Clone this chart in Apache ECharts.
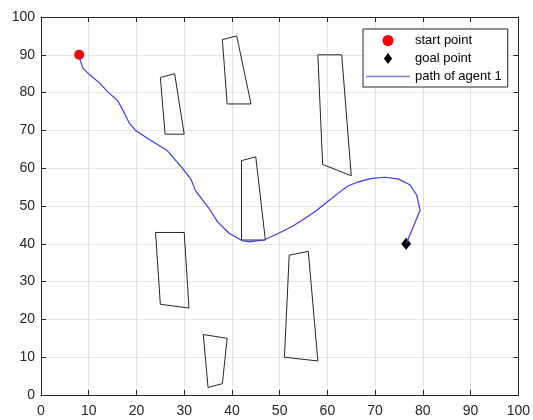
<!DOCTYPE html>
<html>
<head>
<meta charset="utf-8">
<script src="https://cdn.jsdelivr.net/npm/echarts@6/dist/echarts.min.js"></script>
<style>
  html, body { margin: 0; padding: 0; background: #fff; }
  #main { width: 533px; height: 420px; }
</style>
</head>
<body>
<div id="main"></div>
<script>
var chartDom = document.getElementById('main');
var myChart = echarts.init(chartDom);
var option;

// axis ticks
var xTicks = [0, 100, 10];
var yTicks = [0, 100, 10];

// start / goal
var startPoint = [[8, 90]];
var goalPoint = [[76.5, 40]];

// path of agent 1
var agentPath = [
  [8, 90], [8.2, 88.6], [8.8, 86.4], [10.2, 84.7], [12.3, 82.5], [14, 80.2],
  [16.1, 77.8], [17.5, 74.5], [18.5, 71.9], [19.9, 69.9], [22.7, 67.6],
  [26.5, 64.6], [29.6, 60], [31.4, 57.1], [32.4, 54], [35.2, 49.4],
  [37, 45.8], [39.4, 42.8], [42.2, 40.8], [43.6, 40.5], [46.7, 41],
  [49.8, 42.8], [52.6, 44.6], [55, 46.5], [57.5, 48.6], [60, 51.1],
  [62.5, 53.6], [64.3, 55.3], [66.5, 56.4], [69.3, 57.3], [72.1, 57.6],
  [74.9, 57.1], [77.3, 55.6], [78.7, 52.9], [79.4, 48.9], [78, 44.5],
  [76.5, 40]
];

// obstacles (polygon corners)
var obsA = [[25, 84], [28, 85], [30, 69], [26, 69]];
var obsB = [[38, 94], [41, 95], [44, 77], [39, 77]];
var obsC = [[58, 90], [63, 90], [65, 58], [59, 61]];
var obsD = [[42, 62], [45, 63], [47, 41], [42, 41]];
var obsE = [[24, 43], [30, 43], [31, 23], [25, 24]];
var obsF = [[34, 16], [39, 15], [38, 3], [35, 2]];
var obsG = [[52, 37], [56, 38], [58, 9], [51, 10]];
var obstacles = [obsA, obsB, obsC, obsD, obsE, obsF, obsG];

var axisColor = '#262626';
var pathColor = '#3a3ae8';
var font = 'Liberation Sans, Arial, sans-serif';

function boxAxis(pos, showLabel, lim) {
  return {
    type: 'value',
    position: pos,
    min: lim[0],
    max: lim[1],
    interval: lim[2],
    axisLine: { show: true, onZero: false, lineStyle: { color: axisColor, width: 1 } },
    axisTick: { show: true, inside: true, length: 5, lineStyle: { color: axisColor } },
    axisLabel: {
      show: showLabel,
      color: axisColor,
      fontSize: 14,
      fontFamily: font,
      margin: (pos === 'bottom') ? 9 : 6
    },
    splitLine: { show: showLabel, lineStyle: { color: '#e3e3e3', width: 1 } }
  };
}

var series = obstacles.map(function (pts, i) {
  return {
    name: 'obstacle ' + (i + 1),
    type: 'line',
    data: pts.concat([pts[0]]),
    symbol: 'none',
    silent: true,
    lineStyle: { color: axisColor, width: 1 }
  };
});

series.push({
  name: 'path of agent 1',
  type: 'line',
  data: agentPath,
  symbol: 'none',
  lineStyle: { color: pathColor, width: 1.2 },
  itemStyle: { color: pathColor }
});
series.push({
  name: 'start point',
  type: 'scatter',
  data: startPoint,
  symbol: 'circle',
  symbolSize: 10,
  itemStyle: { color: '#ff0000', opacity: 1 }
});
series.push({
  name: 'goal point',
  type: 'scatter',
  data: goalPoint,
  symbol: 'diamond',
  symbolSize: [10, 12],
  itemStyle: { color: '#000000', opacity: 1 }
});

option = {
  animation: false,
  backgroundColor: '#ffffff',
  grid: { left: 41, right: 13, top: 17, bottom: 25 },
  xAxis: [boxAxis('bottom', true, xTicks), boxAxis('top', false, xTicks)],
  yAxis: [boxAxis('left', true, yTicks), boxAxis('right', false, yTicks)],
  legend: {
    data: [
      { name: 'start point', icon: 'circle' },
      { name: 'goal point', icon: 'path://M4.5,0 L9,6 L4.5,12 L0,6 Z' },
      { name: 'path of agent 1', icon: 'path://M0,0 L44,0 L44,1.3 L0,1.3 Z', itemStyle: { color: '#7d7de6' } }
    ],
    orient: 'vertical',
    left: 363,
    top: 29,
    padding: [4, 6, 3, 3],
    itemWidth: 44,
    itemHeight: 11,
    itemGap: 3,
    symbolKeepAspect: true,
    borderColor: axisColor,
    borderWidth: 1,
    backgroundColor: '#ffffff',
    textStyle: { color: '#000', fontSize: 13, lineHeight: 15, fontFamily: font }
  },
  series: series
};

option && myChart.setOption(option);
</script>
</body>
</html>
